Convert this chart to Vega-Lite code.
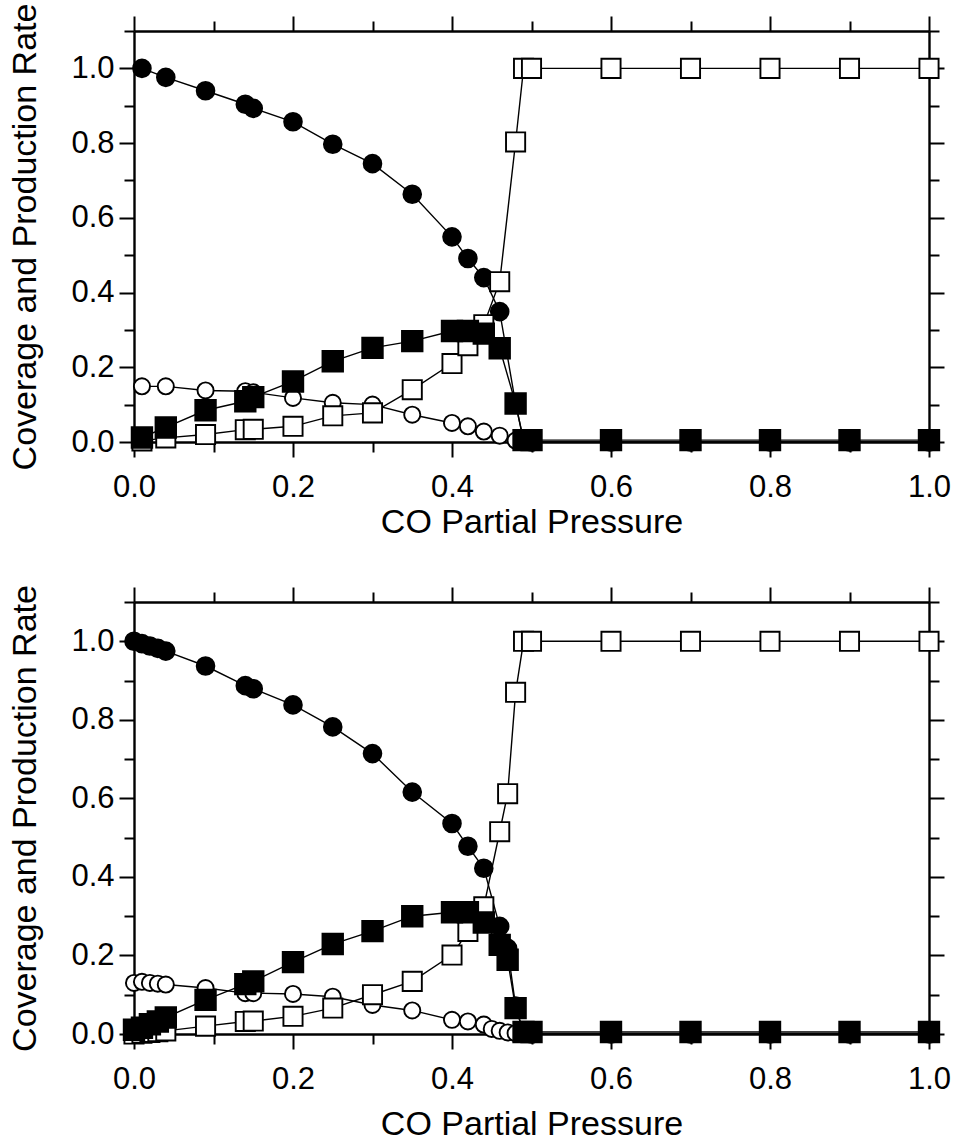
{
  "$schema": "https://vega.github.io/schema/vega-lite/v6.json",
  "padding": {"left": 8, "top": 3, "right": 5, "bottom": 0},
  "spacing": 45,
  "config": {
    "view": {"stroke": null},
    "axis": {"labelFont": "Liberation Sans", "titleFont": "Liberation Sans", "labelColor": "black", "titleColor": "black", "domainColor": "black", "tickColor": "black", "grid": false, "titleFontWeight": "normal", "domainWidth": 2.4, "tickWidth": 2, "labelOverlap": false, "labelFlush": false}
  },
  "datasets": {
    "top": [
      {"series":"oc","x":0.01,"y":0.149},{"series":"oc","x":0.04,"y":0.149},{"series":"oc","x":0.09,"y":0.138},{"series":"oc","x":0.14,"y":0.136},{"series":"oc","x":0.15,"y":0.133},{"series":"oc","x":0.2,"y":0.118},{"series":"oc","x":0.25,"y":0.105},{"series":"oc","x":0.3,"y":0.1},{"series":"oc","x":0.35,"y":0.073},{"series":"oc","x":0.4,"y":0.051},{"series":"oc","x":0.42,"y":0.042},{"series":"oc","x":0.44,"y":0.028},{"series":"oc","x":0.46,"y":0.017},{"series":"oc","x":0.48,"y":0.004},{"series":"oc","x":0.49,"y":0},{"series":"oc","x":0.5,"y":0},{"series":"oc","x":0.6,"y":0},{"series":"oc","x":0.7,"y":0},{"series":"oc","x":0.8,"y":0},{"series":"oc","x":0.9,"y":0},{"series":"oc","x":1.0,"y":0},
      {"series":"fc","x":0.01,"y":1.0},{"series":"fc","x":0.04,"y":0.976},{"series":"fc","x":0.09,"y":0.94},{"series":"fc","x":0.14,"y":0.904},{"series":"fc","x":0.15,"y":0.893},{"series":"fc","x":0.2,"y":0.857},{"series":"fc","x":0.25,"y":0.797},{"series":"fc","x":0.3,"y":0.745},{"series":"fc","x":0.35,"y":0.663},{"series":"fc","x":0.4,"y":0.549},{"series":"fc","x":0.42,"y":0.491},{"series":"fc","x":0.44,"y":0.44},{"series":"fc","x":0.46,"y":0.349},{"series":"fc","x":0.48,"y":0.103},{"series":"fc","x":0.49,"y":0.003},{"series":"fc","x":0.5,"y":0},{"series":"fc","x":0.6,"y":0},{"series":"fc","x":0.7,"y":0},{"series":"fc","x":0.8,"y":0},{"series":"fc","x":0.9,"y":0},{"series":"fc","x":1.0,"y":0},
      {"series":"os","x":0.01,"y":0.003},{"series":"os","x":0.04,"y":0.011},{"series":"os","x":0.09,"y":0.02},{"series":"os","x":0.14,"y":0.033},{"series":"os","x":0.15,"y":0.034},{"series":"os","x":0.2,"y":0.042},{"series":"os","x":0.25,"y":0.07},{"series":"os","x":0.3,"y":0.078},{"series":"os","x":0.35,"y":0.14},{"series":"os","x":0.4,"y":0.21},{"series":"os","x":0.42,"y":0.258},{"series":"os","x":0.44,"y":0.314},{"series":"os","x":0.46,"y":0.429},{"series":"os","x":0.48,"y":0.803},{"series":"os","x":0.49,"y":1.0},{"series":"os","x":0.5,"y":1.0},{"series":"os","x":0.6,"y":1.0},{"series":"os","x":0.7,"y":1.0},{"series":"os","x":0.8,"y":1.0},{"series":"os","x":0.9,"y":1.0},{"series":"os","x":1.0,"y":1.0},
      {"series":"fs","x":0.01,"y":0.012},{"series":"fs","x":0.04,"y":0.039},{"series":"fs","x":0.09,"y":0.085},{"series":"fs","x":0.14,"y":0.109},{"series":"fs","x":0.15,"y":0.12},{"series":"fs","x":0.2,"y":0.162},{"series":"fs","x":0.25,"y":0.216},{"series":"fs","x":0.3,"y":0.252},{"series":"fs","x":0.35,"y":0.27},{"series":"fs","x":0.4,"y":0.297},{"series":"fs","x":0.42,"y":0.297},{"series":"fs","x":0.44,"y":0.29},{"series":"fs","x":0.46,"y":0.251},{"series":"fs","x":0.48,"y":0.103},{"series":"fs","x":0.49,"y":0.005},{"series":"fs","x":0.5,"y":0.005},{"series":"fs","x":0.6,"y":0.005},{"series":"fs","x":0.7,"y":0.005},{"series":"fs","x":0.8,"y":0.005},{"series":"fs","x":0.9,"y":0.005},{"series":"fs","x":1.0,"y":0.005}
    ],
    "bottom": [
      {"series":"oc","x":0.0,"y":0.13},{"series":"oc","x":0.01,"y":0.133},{"series":"oc","x":0.02,"y":0.13},{"series":"oc","x":0.03,"y":0.128},{"series":"oc","x":0.04,"y":0.126},{"series":"oc","x":0.09,"y":0.117},{"series":"oc","x":0.14,"y":0.104},{"series":"oc","x":0.15,"y":0.104},{"series":"oc","x":0.2,"y":0.102},{"series":"oc","x":0.25,"y":0.095},{"series":"oc","x":0.3,"y":0.074},{"series":"oc","x":0.35,"y":0.06},{"series":"oc","x":0.4,"y":0.036},{"series":"oc","x":0.42,"y":0.032},{"series":"oc","x":0.44,"y":0.024},{"series":"oc","x":0.45,"y":0.013},{"series":"oc","x":0.46,"y":0.008},{"series":"oc","x":0.47,"y":0.004},{"series":"oc","x":0.48,"y":0.002},{"series":"oc","x":0.49,"y":0},{"series":"oc","x":0.5,"y":0},{"series":"oc","x":0.6,"y":0},{"series":"oc","x":0.7,"y":0},{"series":"oc","x":0.8,"y":0},{"series":"oc","x":0.9,"y":0},{"series":"oc","x":1.0,"y":0},
      {"series":"fc","x":0.0,"y":1.0},{"series":"fc","x":0.01,"y":0.994},{"series":"fc","x":0.02,"y":0.988},{"series":"fc","x":0.03,"y":0.982},{"series":"fc","x":0.04,"y":0.975},{"series":"fc","x":0.09,"y":0.937},{"series":"fc","x":0.14,"y":0.887},{"series":"fc","x":0.15,"y":0.879},{"series":"fc","x":0.2,"y":0.838},{"series":"fc","x":0.25,"y":0.782},{"series":"fc","x":0.3,"y":0.714},{"series":"fc","x":0.35,"y":0.616},{"series":"fc","x":0.4,"y":0.536},{"series":"fc","x":0.42,"y":0.478},{"series":"fc","x":0.44,"y":0.422},{"series":"fc","x":0.46,"y":0.274},{"series":"fc","x":0.47,"y":0.218},{"series":"fc","x":0.48,"y":0.071},{"series":"fc","x":0.49,"y":0.004},{"series":"fc","x":0.5,"y":0},{"series":"fc","x":0.6,"y":0},{"series":"fc","x":0.7,"y":0},{"series":"fc","x":0.8,"y":0},{"series":"fc","x":0.9,"y":0},{"series":"fc","x":1.0,"y":0},
      {"series":"os","x":0.0,"y":0.0},{"series":"os","x":0.01,"y":0.002},{"series":"os","x":0.02,"y":0.004},{"series":"os","x":0.03,"y":0.006},{"series":"os","x":0.04,"y":0.008},{"series":"os","x":0.09,"y":0.02},{"series":"os","x":0.14,"y":0.032},{"series":"os","x":0.15,"y":0.033},{"series":"os","x":0.2,"y":0.045},{"series":"os","x":0.25,"y":0.066},{"series":"os","x":0.3,"y":0.1},{"series":"os","x":0.35,"y":0.134},{"series":"os","x":0.4,"y":0.201},{"series":"os","x":0.42,"y":0.261},{"series":"os","x":0.44,"y":0.324},{"series":"os","x":0.46,"y":0.515},{"series":"os","x":0.47,"y":0.612},{"series":"os","x":0.48,"y":0.87},{"series":"os","x":0.49,"y":1.0},{"series":"os","x":0.5,"y":1.0},{"series":"os","x":0.6,"y":1.0},{"series":"os","x":0.7,"y":1.0},{"series":"os","x":0.8,"y":1.0},{"series":"os","x":0.9,"y":1.0},{"series":"os","x":1.0,"y":1.0},
      {"series":"fs","x":0.0,"y":0.011},{"series":"fs","x":0.01,"y":0.016},{"series":"fs","x":0.02,"y":0.025},{"series":"fs","x":0.03,"y":0.032},{"series":"fs","x":0.04,"y":0.042},{"series":"fs","x":0.09,"y":0.087},{"series":"fs","x":0.14,"y":0.127},{"series":"fs","x":0.15,"y":0.134},{"series":"fs","x":0.2,"y":0.183},{"series":"fs","x":0.25,"y":0.229},{"series":"fs","x":0.3,"y":0.262},{"series":"fs","x":0.35,"y":0.3},{"series":"fs","x":0.4,"y":0.31},{"series":"fs","x":0.42,"y":0.31},{"series":"fs","x":0.44,"y":0.284},{"series":"fs","x":0.46,"y":0.227},{"series":"fs","x":0.47,"y":0.189},{"series":"fs","x":0.48,"y":0.066},{"series":"fs","x":0.49,"y":0.005},{"series":"fs","x":0.5,"y":0.005},{"series":"fs","x":0.6,"y":0.005},{"series":"fs","x":0.7,"y":0.005},{"series":"fs","x":0.8,"y":0.005},{"series":"fs","x":0.9,"y":0.005},{"series":"fs","x":1.0,"y":0.005}
    ]
  },
  "vconcat": [
    {
      "width": 795, "height": 411,
      "data": {"name": "top"},
      "layer": [
        {
          "mark": {"type": "line", "color": "black", "strokeWidth": 1.4},
          "encoding": {
            "x": {"field": "x", "type": "quantitative", "scale": {"domain": [0, 1], "nice": false, "zero": false},
              "axis": {"orient": "bottom", "values": [0,0.1,0.2,0.3,0.4,0.5,0.6,0.7,0.8,0.9,1.0], "labelExpr": "abs(datum.value*5 - round(datum.value*5)) < 0.01 ? format(datum.value, '.1f') : ''", "tickSize": {"condition": {"test": "abs(datum.value*5 - round(datum.value*5)) < 0.01", "value": 15}, "value": 10}, "labelFontSize": 31, "labelPadding": 15, "title": "CO Partial Pressure", "titleFontSize": 34, "titlePadding": 3}},
            "y": {"field": "y", "type": "quantitative", "scale": {"domain": [0, 1.1], "nice": false, "zero": false},
              "axis": {"orient": "left", "values": [0,0.1,0.2,0.3,0.4,0.5,0.6,0.7,0.8,0.9,1.0,1.1], "labelExpr": "abs(datum.value*5 - round(datum.value*5)) < 0.01 && datum.value < 1.05 ? format(datum.value, '.1f') : ''", "tickSize": {"condition": {"test": "abs(datum.value*5 - round(datum.value*5)) < 0.01", "value": 15}, "value": 10}, "labelFontSize": 31, "labelPadding": 5, "title": "Coverage and Production Rate", "titleFontSize": 34, "titlePadding": 28}},
            "detail": {"field": "series"}
          }
        },
        {
          "mark": {"type": "point", "filled": true, "opacity": 1, "stroke": "black", "strokeWidth": 1.9},
          "encoding": {
            "x": {"field": "x", "type": "quantitative", "scale": {"domain": [0, 1], "nice": false, "zero": false},
              "axis": {"orient": "top", "values": [0,0.1,0.2,0.3,0.4,0.5,0.6,0.7,0.8,0.9,1.0], "labels": false, "title": null, "tickSize": {"condition": {"test": "abs(datum.value*5 - round(datum.value*5)) < 0.01", "value": 15}, "value": 10}}},
            "y": {"field": "y", "type": "quantitative", "scale": {"domain": [0, 1.1], "nice": false, "zero": false},
              "axis": {"orient": "right", "values": [0,0.1,0.2,0.3,0.4,0.5,0.6,0.7,0.8,0.9,1.0,1.1], "labels": false, "title": null, "tickSize": {"condition": {"test": "abs(datum.value*5 - round(datum.value*5)) < 0.01", "value": 15}, "value": 10}}},
            "shape": {"field": "series", "type": "nominal", "scale": {"domain": ["oc","fc","os","fs"], "range": ["circle","circle","square","square"]}, "legend": null},
            "fill": {"field": "series", "type": "nominal", "scale": {"domain": ["oc","fc","os","fs"], "range": ["white","black","white","black"]}, "legend": null},
            "size": {"field": "series", "type": "nominal", "scale": {"domain": ["oc","fc","os","fs"], "range": [260, 420, 195, 230]}, "legend": null}
          }
        }
      ],
      "resolve": {"axis": {"x": "independent", "y": "independent"}}
    },
    {
      "width": 795, "height": 432,
      "data": {"name": "bottom"},
      "layer": [
        {
          "mark": {"type": "line", "color": "black", "strokeWidth": 1.4},
          "encoding": {
            "x": {"field": "x", "type": "quantitative", "scale": {"domain": [0, 1], "nice": false, "zero": false},
              "axis": {"orient": "bottom", "values": [0,0.1,0.2,0.3,0.4,0.5,0.6,0.7,0.8,0.9,1.0], "labelExpr": "abs(datum.value*5 - round(datum.value*5)) < 0.01 ? format(datum.value, '.1f') : ''", "tickSize": {"condition": {"test": "abs(datum.value*5 - round(datum.value*5)) < 0.01", "value": 15}, "value": 10}, "labelFontSize": 31, "labelPadding": 15, "title": "CO Partial Pressure", "titleFontSize": 34, "titlePadding": 13}},
            "y": {"field": "y", "type": "quantitative", "scale": {"domain": [0, 1.1], "nice": false, "zero": false},
              "axis": {"orient": "left", "values": [0,0.1,0.2,0.3,0.4,0.5,0.6,0.7,0.8,0.9,1.0,1.1], "labelExpr": "abs(datum.value*5 - round(datum.value*5)) < 0.01 && datum.value < 1.05 ? format(datum.value, '.1f') : ''", "tickSize": {"condition": {"test": "abs(datum.value*5 - round(datum.value*5)) < 0.01", "value": 15}, "value": 10}, "labelFontSize": 31, "labelPadding": 5, "title": "Coverage and Production Rate", "titleFontSize": 34, "titlePadding": 28}},
            "detail": {"field": "series"}
          }
        },
        {
          "mark": {"type": "point", "filled": true, "opacity": 1, "stroke": "black", "strokeWidth": 1.9},
          "encoding": {
            "x": {"field": "x", "type": "quantitative", "scale": {"domain": [0, 1], "nice": false, "zero": false},
              "axis": {"orient": "top", "values": [0,0.1,0.2,0.3,0.4,0.5,0.6,0.7,0.8,0.9,1.0], "labels": false, "title": null, "tickSize": {"condition": {"test": "abs(datum.value*5 - round(datum.value*5)) < 0.01", "value": 15}, "value": 10}}},
            "y": {"field": "y", "type": "quantitative", "scale": {"domain": [0, 1.1], "nice": false, "zero": false},
              "axis": {"orient": "right", "values": [0,0.1,0.2,0.3,0.4,0.5,0.6,0.7,0.8,0.9,1.0,1.1], "labels": false, "title": null, "tickSize": {"condition": {"test": "abs(datum.value*5 - round(datum.value*5)) < 0.01", "value": 15}, "value": 10}}},
            "shape": {"field": "series", "type": "nominal", "scale": {"domain": ["oc","fc","os","fs"], "range": ["circle","circle","square","square"]}, "legend": null},
            "fill": {"field": "series", "type": "nominal", "scale": {"domain": ["oc","fc","os","fs"], "range": ["white","black","white","black"]}, "legend": null},
            "size": {"field": "series", "type": "nominal", "scale": {"domain": ["oc","fc","os","fs"], "range": [260, 420, 195, 230]}, "legend": null}
          }
        }
      ],
      "resolve": {"axis": {"x": "independent", "y": "independent"}}
    }
  ]
}
